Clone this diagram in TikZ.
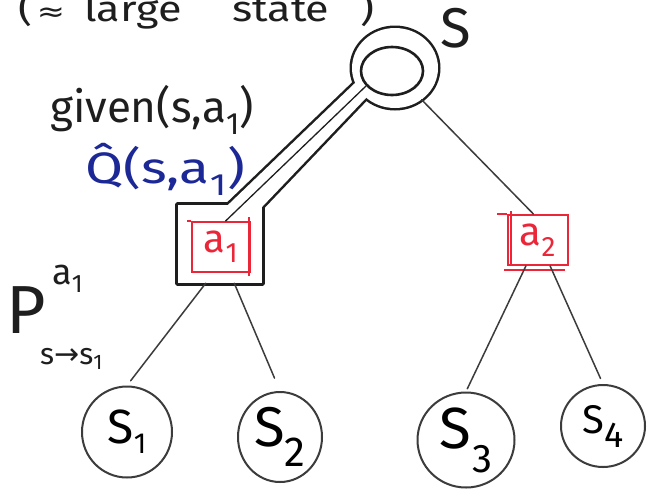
\documentclass[tikz,border=0pt]{standalone}
\usepackage{fontspec}
\setmainfont{Fira Sans}
\newfontfamily\symfont{DejaVu Sans}
\usetikzlibrary{shapes.geometric,calc}
\definecolor{ink}{RGB}{30,30,30}
\definecolor{pencil}{RGB}{60,60,60}
\definecolor{penred}{RGB}{234,38,56}
\definecolor{penblue}{RGB}{28,40,150}
\newcommand\fs[1]{\fontsize{#1}{#1}\selectfont}
\begin{document}
\begin{tikzpicture}[x=1pt,y=-1pt,
  outline/.style={draw=ink, line width=5pt, line join=round},
  edge/.style={draw=pencil, line width=1.5pt, line cap=round},
  leaf/.style={ellipse, draw=pencil, line width=2pt, inner sep=0pt},
  act/.style={rectangle, draw=penred, line width=2pt, inner sep=0pt, text=penred, font=\fs{40}},
  hand/.style={inner sep=0pt, anchor=base west}]
\useasboundingbox (0,0) rectangle (647,488);
\fill[white] (0,0) rectangle (647,488);

% reference points of the highlighted branch
\node[ellipse, minimum width=86, minimum height=80, inner sep=0pt] (root) at (395,68) {};
\node[minimum width=84, minimum height=78, inner sep=0pt] (a1frame) at (220,244) {};
\coordinate (pipeTL) at (367,71.5);
\coordinate (pipeTR) at (376,87.5);
\coordinate (pipeBR) at (252,217.5);
\coordinate (pipeBL) at (218,214.5);

% ring, pipe and frame share one outline: stroke all, then hollow all
\draw[outline] (root.center) ellipse [x radius=43, y radius=40];
\draw[outline] (pipeTL) -- (pipeBL) -- (pipeBR) -- (pipeTR) -- cycle;
\draw[outline] (a1frame.north west) rectangle (a1frame.south east);
\fill[white] (root.center) ellipse [x radius=43, y radius=40];
\fill[white] (pipeTL) -- (pipeBL) -- (pipeBR) -- (pipeTR) -- cycle;
\fill[white] (a1frame.north west) rectangle (a1frame.south east);

% state and action nodes
\node[ellipse, draw=ink, line width=2.6pt, fill=white, minimum width=62,
      minimum height=48, inner sep=0pt] (rootin) at (392,71) {};
\node[act, fill=white, minimum width=58, minimum height=50] (a1) at (221,247) {a\textsubscript{1}};
\node[act, minimum width=60, minimum height=50] (a2) at (538,240) {a\textsubscript{2}};

% pen overshoots on the action boxes
\draw[penred, line width=1.6pt] ($(a1.north west)+(-4,0)$) -- (a1.north west);
\draw[penred, line width=1.6pt] ($(a1.north east)+(-2,-4)$) -- ($(a1.south east)+(-2,3)$);
\draw[penred, line width=1.6pt] ($(a2.north west)+(-10,0)$) -- (a2.north west);
\draw[penred, line width=1.4pt] ($(a2.north west)+(4,-3)$) -- ($(a2.south west)+(4,-2)$);
\draw[penred, line width=1.4pt] ($(a2.south west)+(-3,4)$) -- ($(a2.south east)+(-4,4)$);

\node[leaf, minimum width=90, minimum height=91] (s1) at (127,432)
  {\fs{48}S\raisebox{-10pt}{\fs{29}1}};
\node[leaf, minimum width=84, minimum height=90] (s2) at (280,437)
  {\fs{56}S\raisebox{-20pt}{\fs{42}2}};
\node[leaf, minimum width=97, minimum height=95] (s3) at (466,440)
  {\fs{58}S\kern1pt\raisebox{-24pt}{\fs{40}3}};
\node[leaf, minimum width=84, minimum height=82] (s4) at (603,426)
  {\fs{40}S\raisebox{-14pt}{\fs{36}4}};

% connectors
\draw[edge, draw=ink, line width=1.3pt] (rootin.210) -- (a1.80);
\draw[edge] (root.310) -- (a2.100);
\draw[edge, shorten >=6pt] (a1frame.-110) -- (s1.north);
\draw[edge, shorten >=14pt] (a1frame.-70) -- (s2.north);
\draw[edge, shorten >=3pt] (a2.-115) -- (s3.north);
\draw[edge, shorten >=6pt] (a2.-65) -- (s4.north);

% handwritten labels
\node[hand, text=ink, font=\fs{36}] (note) at (18,21)
  {\scalebox{1.2}[1]{(\kern4pt{\symfont\fs{28}≈}\hspace{16pt}large\hspace{42pt}state\hspace{26pt})}};
\node[hand, text=ink, font=\fs{56}] (slab) at (440,47) {S};
\node[hand, text=ink, font=\fs{44}] (given) at (50,122) {given(s,a\textsubscript{1})};
\node[hand, text=penblue, font=\fs{44}] (qhat) at (85,183)
  {\scalebox{1.25}[1]{\^{Q}(s,a\textsubscript{1})}};
\node[hand, text=ink, font=\fs{68}] (pP) at (6,333) {P};
\node[hand, text=ink, font=\fs{36}] (psup) at (52,284) {a\textsubscript{1}};
\node[hand, text=ink, font=\fs{30}] (psub) at (40,364) {s{\symfont →}s\textsubscript{1}};
\end{tikzpicture}
\end{document}
